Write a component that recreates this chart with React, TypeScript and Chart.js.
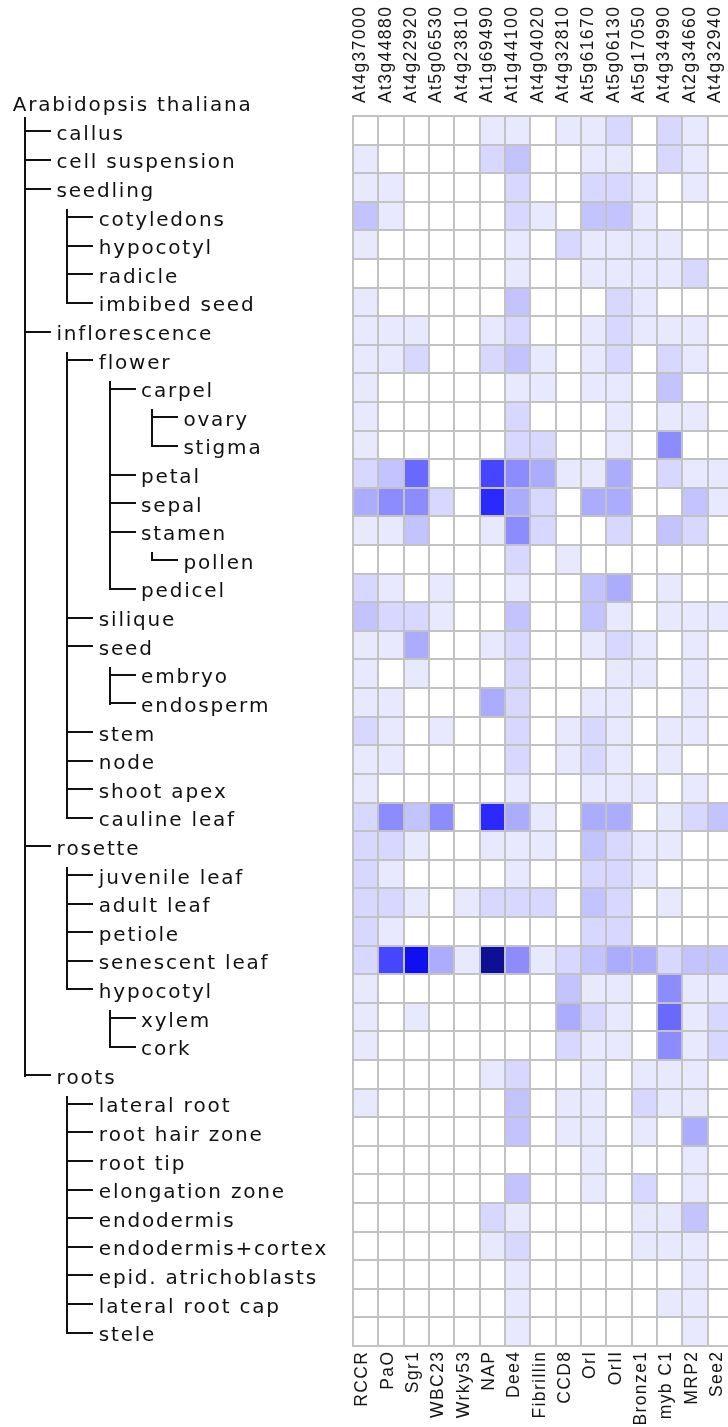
import React, { useEffect, useRef } from 'react';
import { Chart, registerables } from 'chart.js';

Chart.register(...registerables);

// ---- Column labels ----
const GENE_IDS = [
  'At4g37000', 'At3g44880', 'At4g22920', 'At5g06530', 'At4g23810',
  'At1g69490', 'At1g44100', 'At4g04020', 'At4g32810', 'At5g61670',
  'At5g06130', 'At5g17050', 'At4g34990', 'At2g34660', 'At4g32940',
];
const GENE_NAMES = [
  'RCCR', 'PaO', 'Sgr1', 'WBC23', 'Wrky53', 'NAP', 'Dee4', 'Fibrillin',
  'CCD8', 'OrI', 'OrII', 'Bronze1', 'myb C1', 'MRP2', 'See2',
];

// ---- Row labels (tissue tree) ----
const ROOT_LABEL = 'Arabidopsis thaliana';
const TISSUES = [
  'callus', 'cell suspension', 'seedling', 'cotyledons', 'hypocotyl', 'radicle',
  'imbibed seed', 'inflorescence', 'flower', 'carpel', 'ovary', 'stigma', 'petal',
  'sepal', 'stamen', 'pollen', 'pedicel', 'silique', 'seed', 'embryo', 'endosperm',
  'stem', 'node', 'shoot apex', 'cauline leaf', 'rosette', 'juvenile leaf',
  'adult leaf', 'petiole', 'senescent leaf', 'hypocotyl', 'xylem', 'cork', 'roots',
  'lateral root', 'root hair zone', 'root tip', 'elongation zone', 'endodermis',
  'endodermis+cortex', 'epid. atrichoblasts', 'lateral root cap', 'stele',
];
const DEPTHS = [
  1, 1, 1, 2, 2, 2, 2, 1, 2, 3, 4, 4, 3, 3, 3, 4, 3, 2, 2, 3, 3, 2, 2, 2, 2,
  1, 2, 2, 2, 2, 2, 3, 3, 1, 2, 2, 2, 2, 2, 2, 2, 2, 2,
];

// ---- Signal levels per gene (0 = none ... 10 = strongest), one value per tissue ----
const RCCR = [0,1,1,3,1,0,1,1,1,1,1,1,2,4,1,0,2,3,1,1,1,2,1,1,2,2,2,2,2,2,1,1,1,0,1,0,0,0,0,0,0,0,0];
const PaO = [0,0,1,1,0,0,0,1,1,0,0,0,3,5,1,0,1,2,1,0,1,1,1,0,5,2,1,2,1,7,0,0,0,0,0,0,0,0,0,0,0,0,0];
const Sgr1 = [0,0,0,0,0,0,0,1,2,0,0,0,6,5,3,0,0,2,4,1,0,0,0,0,3,1,0,1,0,9,0,1,0,0,0,0,0,0,0,0,0,0,0];
const WBC23 = [0,0,0,0,0,0,0,0,0,0,0,0,0,2,0,0,1,1,0,0,0,1,0,0,5,0,0,0,0,4,0,0,0,0,0,0,0,0,0,0,0,0,0];
const Wrky53 = [0,0,0,0,0,0,0,0,0,0,0,0,0,0,0,0,0,0,0,0,0,0,0,0,0,0,0,1,0,1,0,0,0,0,0,0,0,0,0,0,0,0,0];
const NAP = [1,2,0,0,0,0,0,1,2,0,0,0,7,8,1,0,0,0,1,0,4,0,0,0,8,1,0,2,0,10,0,0,0,1,0,0,0,0,2,1,0,0,0];
const Dee4 = [1,3,2,2,1,1,3,2,3,1,2,2,5,4,5,2,1,3,2,2,2,2,2,1,4,1,1,2,0,5,0,0,0,2,3,3,0,3,1,2,1,1,1];
const Fibrillin = [0,0,0,1,0,0,0,0,1,1,0,2,4,2,2,0,0,0,0,0,0,0,0,0,1,1,0,2,0,1,0,0,0,0,0,0,0,0,0,0,0,0,0];
const CCD8 = [1,0,0,0,2,0,0,0,0,0,0,0,1,0,0,1,0,0,0,0,0,1,1,0,0,0,0,0,0,2,3,4,2,0,1,1,0,0,0,0,0,0,0];
const OrI = [1,1,2,3,1,1,0,1,1,1,0,0,1,4,0,0,3,3,1,0,1,2,2,1,4,3,2,3,2,3,1,2,1,1,1,1,1,1,0,0,0,0,0];
const OrII = [2,1,2,3,1,1,2,2,2,1,1,1,4,4,2,0,4,1,2,1,1,1,1,1,4,2,2,2,2,4,1,1,1,0,0,0,0,0,0,0,0,0,0];
const Bronze1 = [0,0,1,1,1,1,1,1,0,0,0,0,0,0,0,0,0,0,1,1,0,0,0,1,0,1,1,0,0,4,0,0,0,1,2,1,0,2,1,1,0,0,0];
const mybC1 = [2,2,0,0,1,1,0,1,2,3,1,5,2,0,3,0,1,1,0,0,0,1,1,0,1,1,0,1,0,2,5,6,5,1,1,0,0,0,1,1,0,1,0];
const MRP2 = [1,1,1,0,0,2,0,1,1,0,1,0,1,3,2,0,0,1,1,1,1,1,0,1,2,0,0,0,0,3,1,1,1,1,1,4,1,1,3,1,1,1,1];
const See2 = [0,0,0,0,0,0,0,0,0,0,0,0,1,1,0,0,0,1,0,0,0,0,0,0,3,0,0,0,0,3,1,2,2,0,0,0,0,0,0,0,0,0,0];

const GENE_LEVELS = [RCCR, PaO, Sgr1, WBC23, Wrky53, NAP, Dee4, Fibrillin, CCD8, OrI, OrII, Bronze1, mybC1, MRP2, See2];

// colour for each signal level
const LEVEL_COLORS = [
  '#ffffff', '#e8e8ff', '#d7d7ff', '#c3c3ff', '#acacff', '#8c8cff',
  '#6969ff', '#4646ff', '#2a2aff', '#0f0ff0', '#0f0f96',
];

function spacedText(ctx: CanvasRenderingContext2D, text: string, x: number, y: number, ls: number, align: 'left' | 'right') {
  const chars = Array.from(text);
  const widths = chars.map((c) => ctx.measureText(c).width);
  const total = widths.reduce((a, b) => a + b, 0) + ls * (chars.length - 1);
  let cx = align === 'right' ? x - total : x;
  ctx.textAlign = 'left';
  chars.forEach((c, k) => {
    ctx.fillText(c, cx, y);
    cx += widths[k] + ls;
  });
}

const labelsPlugin = {
  id: 'colLabels',
  afterDraw(chart: any) {
    const ctx: CanvasRenderingContext2D = chart.ctx;
    const xs = chart.scales.x;
    const area = chart.chartArea;
    ctx.save();
    ctx.fillStyle = '#151515';
    ctx.font = '17.5px "Liberation Sans", Arial, sans-serif';
    ctx.textBaseline = 'alphabetic';
    GENE_IDS.forEach((id, j) => {
      const cx = xs.getPixelForValue(j + 0.5);
      ctx.save();
      ctx.translate(cx - 0.5, area.top - 13);
      ctx.rotate(-Math.PI / 2);
      spacedText(ctx, id, 0, 0, 1.4, 'left');
      ctx.restore();
    });
    GENE_NAMES.forEach((name, j) => {
      const cx = xs.getPixelForValue(j + 0.5);
      ctx.save();
      ctx.translate(cx + 1.5, area.bottom + 6);
      ctx.rotate(-Math.PI / 2);
      spacedText(ctx, name, 0, 0, 1.4, 'right');
      ctx.restore();
    });
    ctx.restore();
  },
};

const treePlugin = {
  id: 'tissueTree',
  afterDraw(chart: any) {
    const ctx: CanvasRenderingContext2D = chart.ctx;
    const ys = chart.scales.y;
    const rowH = ys.getPixelForValue(1) - ys.getPixelForValue(0);
    const rowY = (i: number) => (i < 0 ? ys.getPixelForValue(0) - rowH : ys.getPixelForValue(i));
    const vx = (d: number) => 25 + 42.3 * (d - 1);
    const depthOf = (i: number) => (i < 0 ? 0 : DEPTHS[i]);

    ctx.save();
    ctx.fillStyle = '#111';
    // connector lines
    for (let p = -1; p < TISSUES.length; p++) {
      const d = depthOf(p);
      const kids: number[] = [];
      for (let i = p + 1; i < TISSUES.length; i++) {
        if (DEPTHS[i] <= d) break;
        if (DEPTHS[i] === d + 1) kids.push(i);
      }
      if (!kids.length) continue;
      const x = Math.round(vx(d + 1));
      const top = p < 0 ? rowY(p) + 15 : rowY(kids[0]) - 7;
      const bottom = rowY(kids[kids.length - 1]) + 2;
      ctx.fillRect(x - 1, Math.round(top), 2, Math.round(bottom - top));
      kids.forEach((k) => {
        ctx.fillRect(x - 1, Math.round(rowY(k)), 27, 2);
      });
    }
    // text
    ctx.font = '20px "DejaVu Sans", Verdana, sans-serif';
    ctx.textBaseline = 'alphabetic';
    spacedText(ctx, ROOT_LABEL, 12.7, rowY(-1) + 9.5, 1.8, 'left');
    TISSUES.forEach((t, i) => {
      spacedText(ctx, t, vx(DEPTHS[i]) + 31.5, rowY(i) + 9.5, 1.8, 'left');
    });
    ctx.restore();
  },
};

export default function App() {
  const ref = useRef<HTMLCanvasElement | null>(null);

  useEffect(() => {
    if (!ref.current) return;
    const datasets = GENE_IDS.map((id, j) => ({
      label: `${id} ${GENE_NAMES[j]}`,
      data: TISSUES.map(() => 1),
      backgroundColor: GENE_LEVELS[j].map((v) => LEVEL_COLORS[v]),
      borderWidth: 0,
      barPercentage: 1,
      categoryPercentage: 1,
    }));
    const grey = '#c2c2c2';
    const chart = new Chart(ref.current, {
      type: 'bar',
      data: { labels: TISSUES, datasets },
      options: {
        indexAxis: 'y',
        responsive: false,
        animation: false,
        devicePixelRatio: 1,
        layout: { padding: { left: 353, top: 116, right: 8, bottom: 81 } },
        plugins: { legend: { display: false }, tooltip: { enabled: false } },
        scales: {
          x: {
            type: 'linear',
            stacked: true,
            min: 0,
            max: 15,
            ticks: { display: false, stepSize: 1 },
            grid: { color: grey, lineWidth: 2, drawTicks: false, z: 1 },
            border: { display: true, color: grey, width: 2, z: 1 },
          },
          y: {
            type: 'category',
            stacked: true,
            offset: true,
            ticks: { display: false },
            grid: { offset: true, color: grey, lineWidth: 2, drawTicks: false, z: 1 },
            border: { display: true, color: grey, width: 2, z: 1 },
          },
        },
      } as any,
      plugins: [treePlugin, labelsPlugin],
    });
    return () => chart.destroy();
  }, []);

  return (
    <div style={{ position: 'absolute', left: 0, top: 0, width: 728, height: 1427, overflow: 'hidden', background: '#fff' }}>
      <canvas ref={ref} width={741} height={1427} style={{ display: 'block', width: 741, height: 1427 }} />
    </div>
  );
}
